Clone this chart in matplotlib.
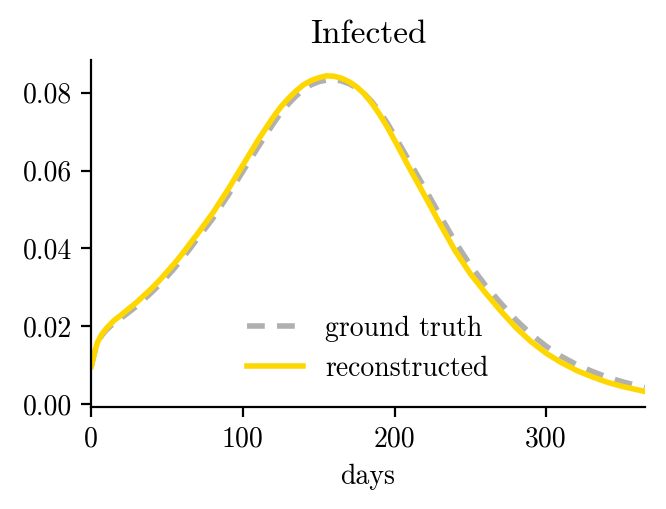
import matplotlib
matplotlib.use("Agg")
import matplotlib.pyplot as plt

plt.rcParams['font.family'] = 'serif'
plt.rcParams['font.serif'] = ['cmr10', 'DejaVu Serif']
plt.rcParams['mathtext.fontset'] = 'cm'
plt.rcParams['axes.formatter.use_mathtext'] = True

days = [0, 2, 4, 7, 10, 15, 20, 25, 30, 35, 40, 45, 50, 55, 60, 65, 70, 80,
        90, 100, 110, 120, 125, 130, 135, 140, 145, 150, 155, 160, 165, 170,
        175, 180, 185, 190, 195, 200, 210, 220, 230, 240, 250, 260, 270, 280,
        290, 300, 310, 320, 330, 340, 350, 365]

ground_truth = [0.0097, 0.0130, 0.0156, 0.0177, 0.0191, 0.0209, 0.0222, 0.0237,
                0.0252, 0.0270, 0.0288, 0.0307, 0.0328, 0.0350, 0.0374, 0.0399,
                0.0425, 0.0476, 0.0535, 0.0598, 0.0660, 0.0720, 0.0748, 0.0771,
                0.0791, 0.0808, 0.0820, 0.0828, 0.0832, 0.0833, 0.0830, 0.0823,
                0.0812, 0.0797, 0.0777, 0.0752, 0.0723, 0.0690, 0.0622, 0.0554,
                0.0485, 0.0417, 0.0357, 0.0305, 0.0260, 0.0217, 0.0180, 0.0149,
                0.0123, 0.0102, 0.0085, 0.0070, 0.0058, 0.0043]

reconstructed = [0.0097, 0.0130, 0.0158, 0.0180, 0.0195, 0.0215, 0.0230, 0.0246,
                 0.0262, 0.0280, 0.0298, 0.0318, 0.0340, 0.0362, 0.0386, 0.0412,
                 0.0437, 0.0490, 0.0550, 0.0614, 0.0678, 0.0737, 0.0763, 0.0785,
                 0.0804, 0.0820, 0.0831, 0.0838, 0.0843, 0.0842, 0.0837, 0.0828,
                 0.0815, 0.0797, 0.0773, 0.0745, 0.0713, 0.0678, 0.0605, 0.0535,
                 0.0463, 0.0394, 0.0335, 0.0286, 0.0240, 0.0197, 0.0161, 0.0131,
                 0.0107, 0.0087, 0.0071, 0.0057, 0.0046, 0.0033]

xticks = [0, 100, 200, 300]
yticks = [0.00, 0.02, 0.04, 0.06, 0.08]

fig = plt.figure(figsize=(3.33, 2.545), dpi=200)
ax = fig.add_axes([0.137, 0.200, 0.831, 0.682])

ax.plot(days, ground_truth, color='#b0b0b0', lw=2.0, ls=(0, (3.2, 2.2)), label='ground truth')
ax.plot(days, reconstructed, color='#ffd700', lw=2.0, label='reconstructed')

ax.set_xlim(0, 365)
ax.set_xticks(xticks)
ax.set_yticks(yticks)
ax.set_yticklabels([f"{v:.2f}" for v in yticks])
ax.set_xticklabels([str(v) for v in xticks])
ax.spines['top'].set_visible(False)
ax.spines['right'].set_visible(False)
ax.tick_params(labelsize=10)
ax.set_xlabel('days', fontsize=10)
ax.set_title('Infected', fontsize=12)
ax.legend(loc='lower center', frameon=False, fontsize=10)

fig.savefig('out.png', dpi=200)
